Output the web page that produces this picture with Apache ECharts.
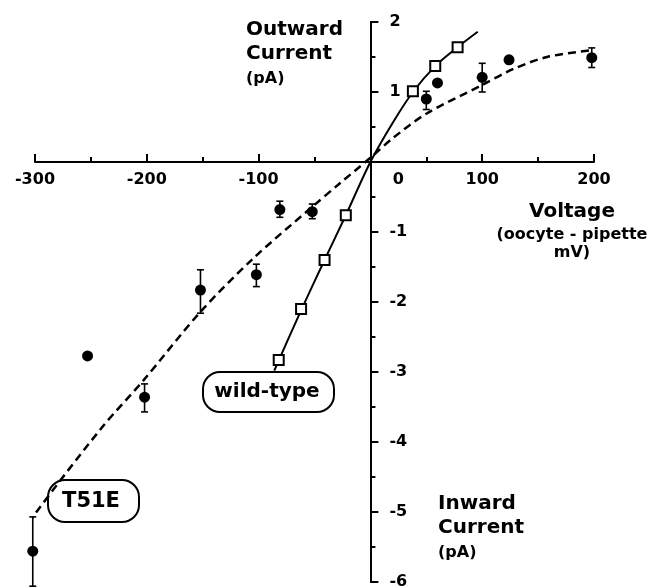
<!DOCTYPE html>
<html>
<head>
<meta charset="utf-8">
<script src="https://cdn.jsdelivr.net/npm/echarts@6/dist/echarts.min.js"></script>
<style>
html,body{margin:0;padding:0;background:#fff;}
#chart{width:653px;height:587px;}
</style>
</head>
<body>
<div id="chart"></div>
<script>
// ---- data ----
var xTicks = [-300, -200, -100, 0, 100, 200];
var yTicks = [-6, -5, -4, -3, -2, -1, 0, 1, 2];

// T51E measured points (filled circles) with error bars
var t51eV    = [-302, -253, -202, -152, -102, -81, -52, 50, 60, 100, 124, 198];
var t51eI    = [-5.56, -2.77, -3.36, -1.83, -1.61, -0.68, -0.71, 0.90, 1.13, 1.21, 1.46, 1.49];
var t51eLow  = [-6.06, null, -3.57, -2.16, -1.78, -0.79, -0.81, 0.75, null, 1.00, null, 1.35];
var t51eHigh = [-5.07, null, -3.17, -1.54, -1.46, -0.56, -0.60, 1.01, null, 1.41, null, 1.63];

// T51E fitted curve (dashed)
var t51eFitV = [-318, -302, -240, -203, -152, -105, -52, -27, 0, 20, 50, 100, 128, 158, 199];
var t51eFitI = [-5.47, -5.07, -3.79, -3.12, -2.14, -1.38, -0.64, -0.30, 0.06, 0.34, 0.69, 1.10, 1.33, 1.50, 1.60];

// wild-type measured points (open squares)
var wtV = [-82, -62, -41, -22, 38, 58, 78];
var wtI = [-2.83, -2.10, -1.40, -0.76, 1.01, 1.37, 1.64];

// wild-type fitted line (solid)
var wtFitV = [-86, -62, -41, -22, 0, 20, 38, 58, 78, 96];
var wtFitI = [-2.98, -2.12, -1.40, -0.76, 0.0, 0.56, 1.00, 1.37, 1.64, 1.86];

function zip(a, b) { return a.map(function (v, i) { return [v, b[i]]; }); }

var FONT = 'DejaVu Sans';
var G = {left: 35, right: 59, top: 22, bottom: 5};
var W = 653, H = 587;
var xMin = xTicks[0], xMax = xTicks[xTicks.length - 1];
var yMin = yTicks[0], yMax = yTicks[yTicks.length - 1];
var gw = W - G.left - G.right, gh = H - G.top - G.bottom;
// place each axis on the other's zero by offsetting from the grid edge
var xZeroPx = G.left + gw * (0 - xMin) / (xMax - xMin);
var yZeroPx = G.top + gh * (yMax - 0) / (yMax - yMin);
var yAxisOffset = -((G.left + gw) - xZeroPx);
var xAxisOffset = -((G.top + gh) - yZeroPx);

var chart = echarts.init(document.getElementById('chart'), null, {renderer: 'canvas'});

var errData = [];
t51eV.forEach(function (v, i) {
  if (t51eLow[i] !== null) errData.push([v, t51eLow[i], t51eHigh[i]]);
});

function txt(x, y, s, size, align) {
  return {
    type: 'text', x: x, y: y, z: 10,
    style: {text: s, fill: '#000', font: 'bold ' + size + 'px "' + FONT + '"',
            textAlign: align || 'left', textVerticalAlign: 'middle'}
  };
}
function box(x, y, w, h, cx, cy, s, size) {
  return [
    {type: 'rect', z: 0, shape: {x: x, y: y, width: w, height: h, r: 17},
     style: {fill: '#fff', stroke: '#000', lineWidth: 2}},
    txt(cx, cy, s, size, 'center')
  ];
}

var graphics = [
  txt(246, 30, 'Outward', 20), txt(246, 54, 'Current', 20), txt(246, 79, '(pA)', 16),
  txt(438, 504, 'Inward', 20), txt(438, 528, 'Current', 20), txt(438, 553, '(pA)', 16),
  txt(572, 212, 'Voltage', 20, 'center'), txt(572, 235, '(oocyte - pipette', 16, 'center'),
  txt(572, 253, 'mV)', 16, 'center')
].concat(box(203, 372, 131, 40, 267, 392, 'wild-type', 20))
 .concat(box(48, 480, 91, 42, 91, 502, 'T51E', 21));

var option = {
  animation: false,
  backgroundColor: '#fff',
  textStyle: {fontFamily: FONT},
  grid: {left: G.left, right: G.right, top: G.top, bottom: G.bottom, containLabel: false,
         outerBoundsMode: 'none'},
  xAxis: {
    type: 'value', min: xMin, max: xMax, interval: 100,
    position: 'bottom', offset: xAxisOffset,
    axisLine: {onZero: false, lineStyle: {color: '#000', width: 2}},
    axisTick: {inside: true, length: 8, lineStyle: {color: '#000', width: 2}},
    minorTick: {show: true, splitNumber: 2, length: 5, lineStyle: {color: '#000', width: 2}},
    splitLine: {show: false}, minorSplitLine: {show: false},
    axisLabel: {
      margin: 10, color: '#000', fontSize: 16, fontWeight: 'bold', fontFamily: FONT,
      showMinLabel: true, showMaxLabel: true, hideOverlap: false,
      formatter: function (v) { return v === 0 ? '{z|0}' : String(v); },
      rich: {z: {padding: [0, 0, 0, 56], fontSize: 16, fontWeight: 'bold', fontFamily: FONT, color: '#000'}}
    }
  },
  yAxis: {
    type: 'value', min: yMin, max: yMax, interval: 1,
    position: 'right', offset: yAxisOffset,
    axisLine: {onZero: false, lineStyle: {color: '#000', width: 2}},
    axisTick: {inside: false, length: 8, lineStyle: {color: '#000', width: 2}},
    minorTick: {show: true, splitNumber: 2, length: 5, lineStyle: {color: '#000', width: 2}},
    splitLine: {show: false}, minorSplitLine: {show: false},
    axisLabel: {
      margin: 19, color: '#000', fontSize: 16, fontWeight: 'bold', fontFamily: FONT,
      showMinLabel: true, showMaxLabel: true, hideOverlap: false,
      formatter: function (v) { return v === 0 ? '' : String(v); }
    }
  },
  graphic: graphics,
  series: [
    {
      type: 'line', name: 'T51E fit', data: zip(t51eFitV, t51eFitI), smooth: 0.3,
      showSymbol: false, clip: false, z: 3,
      lineStyle: {color: '#000', width: 2.5, type: [8, 5]}
    },
    {
      type: 'line', name: 'wild-type fit', data: zip(wtFitV, wtFitI), smooth: 0.3,
      showSymbol: false, clip: false, z: 3,
      lineStyle: {color: '#000', width: 2}
    },
    {
      type: 'custom', name: 'err', data: errData, clip: false, z: 4,
      renderItem: function (params, api) {
        var lo = api.coord([api.value(0), api.value(1)]);
        var hi = api.coord([api.value(0), api.value(2)]);
        var c = 3.5, st = {stroke: '#000', lineWidth: 1.6};
        return {type: 'group', children: [
          {type: 'line', shape: {x1: lo[0], y1: lo[1], x2: hi[0], y2: hi[1]}, style: st},
          {type: 'line', shape: {x1: lo[0] - c, y1: lo[1], x2: lo[0] + c, y2: lo[1]}, style: st},
          {type: 'line', shape: {x1: hi[0] - c, y1: hi[1], x2: hi[0] + c, y2: hi[1]}, style: st}
        ]};
      }
    },
    {
      type: 'scatter', name: 'T51E', data: zip(t51eV, t51eI), symbol: 'circle', symbolSize: 11,
      clip: false, z: 5, itemStyle: {color: '#000', opacity: 1}
    },
    {
      type: 'scatter', name: 'wild-type', data: zip(wtV, wtI), symbol: 'rect', symbolSize: 10,
      clip: false, z: 5, itemStyle: {color: '#fff', borderColor: '#000', borderWidth: 2, opacity: 1}
    }
  ]
};
chart.setOption(option);
</script>
</body>
</html>
